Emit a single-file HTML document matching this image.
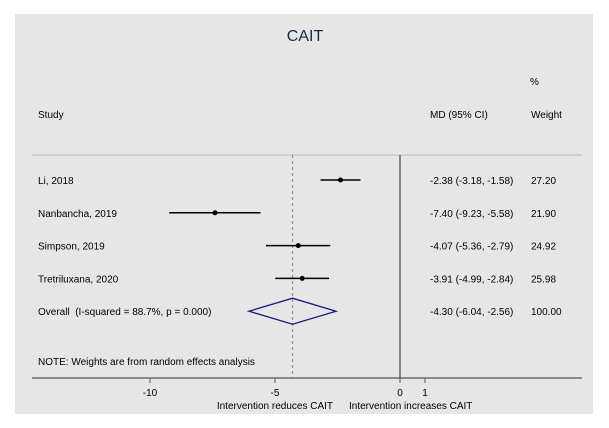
<!DOCTYPE html>
<html><head><meta charset="utf-8"><style>
body{margin:0;background:#fff;}
svg{display:block;font-family:"Liberation Sans",Arial,sans-serif;}
</style></head><body>
<svg id="c" width="609" height="428">
<rect x="15" y="14" width="578" height="400" fill="#e6e6e6"/>
<text x="305" y="41" font-size="16" text-anchor="middle" fill="#1a2a4a">CAIT</text>
<text x="530" y="85" font-size="10">%</text>
<text x="38" y="118" font-size="10">Study</text>
<text x="430" y="118" font-size="10">MD (95% CI)</text>
<text x="531" y="118" font-size="10">Weight</text>
<line x1="32" y1="155" x2="582" y2="155" stroke="#c8c8c8" stroke-width="1.5"/>
<text x="38" y="365" font-size="10">NOTE: Weights are from random effects analysis</text>
<text x="333" y="409" font-size="10" text-anchor="end">Intervention reduces CAIT</text>
<text x="349" y="409" font-size="10">Intervention increases CAIT</text>
<g id="marks"></g>
</svg>
<script>
const studies=["Li, 2018","Nanbancha, 2019","Simpson, 2019","Tretriluxana, 2020"];
const md=[-2.38,-7.40,-4.07,-3.91];
const lo=[-3.18,-9.23,-5.36,-4.99];
const hi=[-1.58,-5.58,-2.79,-2.84];
const weights=["27.20","21.90","24.92","25.98"];
const overall=[-4.30,-6.04,-2.56];
const overallLabel="Overall\u00a0\u00a0(I-squared = 88.7%, p = 0.000)";
const ticks=[-10,-5,0,1];
const NS="http://www.w3.org/2000/svg";
const g=document.getElementById('marks');
const X=v=>400+v*25;
const rowY=i=>180+i*32.8;
function el(t,a,txt){const e=document.createElementNS(NS,t);for(const k in a)e.setAttribute(k,a[k]);if(txt!==undefined)e.textContent=txt;g.appendChild(e);return e;}
const fmt=v=>v.toFixed(2);
let z=el('line',{x1:X(0),y1:155,x2:X(0),y2:378,stroke:'#222','stroke-width':1});


let d=el('line',{x1:X(overall[0]),y1:155,x2:X(overall[0]),y2:378,stroke:'#b08a8a','stroke-width':1.3,'stroke-dasharray':'3,3'});


studies.forEach((s,i)=>{
  const y=rowY(i);
  let t=el('text',{x:38,y:y+4,'font-size':10},s);
  
  
  let l=el('line',{x1:X(lo[i]),y1:y,x2:X(hi[i]),y2:y,stroke:'#000','stroke-width':1.5});
  
  
  let c=el('circle',{cx:X(md[i]),cy:y,r:2.5,fill:'#000'});
  
  
  let m=el('text',{x:430,y:y+4,'font-size':10},fmt(md[i])+" ("+fmt(lo[i])+", "+fmt(hi[i])+")");
  
  
  let w=el('text',{x:531,y:y+4,'font-size':10},weights[i]);
  
  
});
const oy=rowY(4);
let ot=el('text',{x:38,y:oy+4,'font-size':10},overallLabel);


let dm=el('polygon',{points:`${X(overall[1])},${oy} ${X(overall[0])},${oy-13} ${X(overall[2])},${oy} ${X(overall[0])},${oy+13}`,fill:'none',stroke:'#1a1a80','stroke-width':1.3});


let om=el('text',{x:430,y:oy+4,'font-size':10},fmt(overall[0])+" ("+fmt(overall[1])+", "+fmt(overall[2])+")");


let ow=el('text',{x:531,y:oy+4,'font-size':10},"100.00");


let ax=el('line',{x1:32,y1:378,x2:582,y2:378,stroke:'#555','stroke-width':1.3});


ticks.forEach(v=>{
  let tk=el('line',{x1:X(v),y1:378,x2:X(v),y2:383,stroke:'#555'});
  
  
  let tl=el('text',{x:X(v),y:396,'font-size':10,'text-anchor':'middle'},String(v));
  
  
});
</script>
</body></html>
